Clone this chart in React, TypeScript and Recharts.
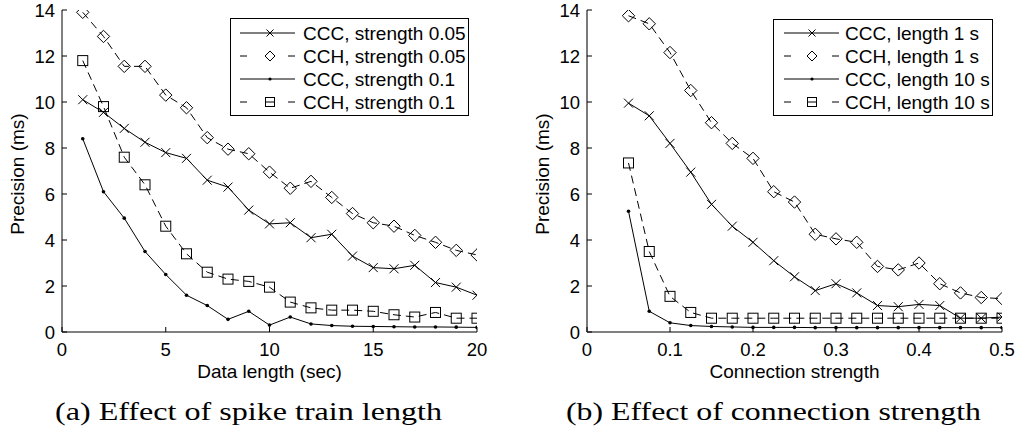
import React from 'react';
import { LineChart, Line, XAxis, YAxis } from 'recharts';

// ---------- Data: panel (a) ----------
const lengthSec = [1, 2, 3, 4, 5, 6, 7, 8, 9, 10, 11, 12, 13, 14, 15, 16, 17, 18, 19, 20];
const cccStrength005 = [10.1, 9.55, 8.85, 8.25, 7.8, 7.55, 6.6, 6.3, 5.3, 4.7, 4.75, 4.1, 4.25, 3.3, 2.8, 2.75, 2.9, 2.15, 1.95, 1.6];
const cchStrength005 = [13.9, 12.85, 11.55, 11.55, 10.3, 9.75, 8.45, 7.95, 7.75, 6.95, 6.25, 6.55, 5.85, 5.15, 4.75, 4.6, 4.2, 3.9, 3.55, 3.35];
const cccStrength01 = [8.4, 6.1, 4.95, 3.5, 2.5, 1.6, 1.15, 0.55, 0.9, 0.3, 0.65, 0.35, 0.28, 0.25, 0.24, 0.23, 0.22, 0.22, 0.21, 0.2];
const cchStrength01 = [11.8, 9.8, 7.6, 6.4, 4.6, 3.4, 2.6, 2.3, 2.2, 1.95, 1.3, 1.05, 0.95, 0.95, 0.9, 0.75, 0.65, 0.85, 0.6, 0.6];

// ---------- Data: panel (b) ----------
const strength = [0.05, 0.075, 0.1, 0.125, 0.15, 0.175, 0.2, 0.225, 0.25, 0.275, 0.3, 0.325, 0.35, 0.375, 0.4, 0.425, 0.45, 0.475, 0.5];
const cccLength1 = [9.95, 9.4, 8.2, 6.95, 5.55, 4.6, 3.9, 3.1, 2.4, 1.8, 2.1, 1.7, 1.15, 1.1, 1.2, 1.15, 0.6, 0.6, 0.65];
const cchLength1 = [13.75, 13.4, 12.15, 10.5, 9.1, 8.2, 7.55, 6.1, 5.65, 4.25, 4.05, 3.9, 2.85, 2.7, 3.0, 2.1, 1.7, 1.5, 1.45];
const cccLength10 = [5.25, 0.9, 0.4, 0.28, 0.24, 0.22, 0.2, 0.2, 0.2, 0.19, 0.19, 0.19, 0.19, 0.19, 0.19, 0.19, 0.19, 0.19, 0.19];
const cchLength10 = [7.35, 3.5, 1.55, 0.85, 0.6, 0.6, 0.6, 0.6, 0.6, 0.6, 0.6, 0.6, 0.6, 0.6, 0.6, 0.6, 0.6, 0.6, 0.6];

// ---------- Ticks / labels ----------
const xTicksA = [0, 5, 10, 15, 20];
const xTicksB = [0, 0.1, 0.2, 0.3, 0.4, 0.5];
const yTicks = [0, 2, 4, 6, 8, 10, 12, 14];
const legendA = ['CCC, strength 0.05', 'CCH, strength 0.05', 'CCC, strength 0.1', 'CCH, strength 0.1'];
const legendB = ['CCC, length 1 s', 'CCH, length 1 s', 'CCC, length 10 s', 'CCH, length 10 s'];
const xLabelA = 'Data length (sec)';
const xLabelB = 'Connection strength';
const yLabel = 'Precision (ms)';
const captionA = '(a) Effect of spike train length';
const captionB = '(b) Effect of connection strength';

const dataA = lengthSec.map((x, i) => ({ x, s0: cccStrength005[i], s1: cchStrength005[i], s2: cccStrength01[i], s3: cchStrength01[i] }));
const dataB = strength.map((x, i) => ({ x, s0: cccLength1[i], s1: cchLength1[i], s2: cccLength10[i], s3: cchLength10[i] }));

const FONT = "'Liberation Sans', Arial, Helvetica, sans-serif";
const SERIF = "'Liberation Serif', 'Times New Roman', serif";
const TICK_FS = 18.5;
const LABEL_FS = 19;
const LEGEND_FS = 19;
const DASH = '8 5';

type MarkerKind = 'cross' | 'diamond' | 'dot' | 'square';
const kinds: MarkerKind[] = ['cross', 'diamond', 'dot', 'square'];

function Marker({ kind, cx, cy, s }: { kind: MarkerKind; cx: number; cy: number; s: number }) {
  if (kind === 'cross') {
    return <path d={`M${cx - s},${cy - s}L${cx + s},${cy + s}M${cx - s},${cy + s}L${cx + s},${cy - s}`} stroke="#000" strokeWidth={1} fill="none" />;
  }
  if (kind === 'diamond') {
    return <path d={`M${cx},${cy - s}L${cx + s},${cy}L${cx},${cy + s}L${cx - s},${cy}Z`} stroke="#000" strokeWidth={1} fill="none" />;
  }
  if (kind === 'square') {
    return <rect x={cx - s} y={cy - s} width={2 * s} height={2 * s} stroke="#000" strokeWidth={1} fill="none" />;
  }
  return <circle cx={cx} cy={cy} r={s} fill="#000" stroke="none" />;
}

const markerSize: Record<MarkerKind, number> = { cross: 4.5, diamond: 6.2, dot: 1.8, square: 5 };

const makeDot = (kind: MarkerKind, name: string) => (p: any) => {
  if (p.cx == null || p.cy == null) return <g key={`${name}-${p.index}`} />;
  return (
    <g key={`${name}-${p.index}`}>
      <Marker kind={kind} cx={p.cx} cy={p.cy} s={markerSize[kind]} />
    </g>
  );
};

const makeYTick = (margin: number) => (props: any) => {
  const { x, y, payload } = props;
  const ax = x + margin;
  return (
    <g>
      <line x1={ax} y1={y} x2={ax + 5} y2={y} stroke="#000" strokeWidth={1} />
      <text x={x} y={y} dy="0.355em" textAnchor="end" fontFamily={FONT} fontSize={TICK_FS} fill="#000">
        {payload.value}
      </text>
    </g>
  );
};

const makeXTick = (margin: number) => (props: any) => {
  const { x, y, payload } = props;
  const ay = y - margin;
  return (
    <g>
      <line x1={x} y1={ay} x2={x} y2={ay - 5} stroke="#000" strokeWidth={1} />
      <text x={x} y={y} dy="0.71em" textAnchor="middle" fontFamily={FONT} fontSize={TICK_FS} fill="#000">
        {payload.value}
      </text>
    </g>
  );
};

function LegendBox({ left, top, width, height, labels, rowStart, rowGap, lineX1, lineX2, markerX, textX }: any) {
  return (
    <div style={{ position: 'absolute', left, top, width, height }}>
      <svg width={width} height={height} style={{ display: 'block' }}>
        <rect x={0.5} y={0.5} width={width - 1} height={height - 1} fill="#fff" stroke="#000" strokeWidth={1} />
        {labels.map((lab: string, i: number) => {
          const y = rowStart + i * rowGap;
          const kind = kinds[i];
          const dashed = i % 2 === 1;
          const sizes: Record<MarkerKind, number> = { cross: 3.5, diamond: 5, dot: 1.6, square: 4.5 };
          return (
            <g key={lab}>
              {dashed ? (
                <g>
                  <line x1={lineX1} y1={y} x2={lineX1 + 7} y2={y} stroke="#000" strokeWidth={1} />
                  <line x1={lineX2 - 7} y1={y} x2={lineX2} y2={y} stroke="#000" strokeWidth={1} />
                  {kind === 'square' && <line x1={markerX - 4.5} y1={y} x2={markerX + 4.5} y2={y} stroke="#000" strokeWidth={1} />}
                </g>
              ) : (
                <line x1={lineX1} y1={y} x2={lineX2} y2={y} stroke="#000" strokeWidth={1} />
              )}
              <Marker kind={kind} cx={markerX} cy={y} s={sizes[kind]} />
              <text x={textX} y={y} dy="0.355em" fontFamily={FONT} fontSize={LEGEND_FS} fill="#000">
                {lab}
              </text>
            </g>
          );
        })}
      </svg>
    </div>
  );
}

function Panel({ data, xTicks, xDomain, xLabel, yAxisWidth, yLabelOffset, rightMargin, yAxisStroke, yAxisStrokeWidth }: any) {
  return (
    <LineChart width={508} height={382} data={data} margin={{ top: 10, right: rightMargin, left: 0, bottom: 0 }}>
      <XAxis
        dataKey="x"
        type="number"
        domain={xDomain}
        ticks={xTicks}
        interval={0}
        height={50}
        tickSize={0}
        tickMargin={11}
        tickLine={false}
        axisLine={{ stroke: '#000', strokeWidth: 1 }}
        tick={makeXTick(11)}
        allowDataOverflow
        label={{ value: xLabel, position: 'insideBottom', offset: 4, fill: '#000', fontSize: LABEL_FS, fontFamily: FONT }}
      />
      <YAxis
        type="number"
        domain={[0, 14]}
        ticks={yTicks}
        interval={0}
        width={yAxisWidth}
        tickSize={0}
        tickMargin={7}
        tickLine={false}
        axisLine={{ stroke: yAxisStroke, strokeWidth: yAxisStrokeWidth }}
        tick={makeYTick(7)}
        allowDataOverflow
        label={{ value: yLabel, angle: -90, position: 'insideLeft', offset: yLabelOffset, dy: 3, style: { textAnchor: 'middle' }, fill: '#000', fontSize: LABEL_FS, fontFamily: FONT }}
      />
      {['s0', 's1', 's2', 's3'].map((k, i) => (
        <Line
          key={k}
          dataKey={k}
          type="linear"
          stroke="#000"
          strokeWidth={1}
          strokeDasharray={i % 2 === 1 ? DASH : undefined}
          dot={makeDot(kinds[i], k)}
          activeDot={false}
          isAnimationActive={false}
          legendType="none"
        />
      ))}
    </LineChart>
  );
}

export default function App() {
  return (
    <div style={{ position: 'absolute', left: 0, top: 0, width: 1016, height: 430, background: '#fff', overflow: 'hidden' }}>
      <div style={{ position: 'absolute', left: 0, top: 0 }}>
        <Panel data={dataA} xTicks={xTicksA} xDomain={[0, 20]} xLabel={xLabelA} yAxisWidth={62} yLabelOffset={17} rightMargin={31} yAxisStroke="#000" yAxisStrokeWidth={1} />
      </div>
      <div style={{ position: 'absolute', left: 508, top: 0 }}>
        <Panel data={dataB} xTicks={xTicksB} xDomain={[0, 0.5]} xLabel={xLabelB} yAxisWidth={79} yLabelOffset={34} rightMargin={14} yAxisStroke="#7a7a7a" yAxisStrokeWidth={2} />
      </div>
      <LegendBox left={230} top={18} width={239} height={98} labels={legendA} rowStart={15} rowGap={23} lineX1={10} lineX2={65} markerX={40} textX={73} />
      <LegendBox left={773} top={19} width={220} height={97} labels={legendB} rowStart={14} rowGap={23} lineX1={11} lineX2={66} markerX={39} textX={72} />
      <svg width={1016} height={50} style={{ position: 'absolute', left: 0, top: 380 }}>
        <text x={55} y={40} fontFamily={SERIF} fontSize={26} fill="#000" textLength={387} lengthAdjust="spacingAndGlyphs">
          {captionA}
        </text>
        <text x={566} y={40} fontFamily={SERIF} fontSize={26} fill="#000" textLength={415} lengthAdjust="spacingAndGlyphs">
          {captionB}
        </text>
      </svg>
    </div>
  );
}
